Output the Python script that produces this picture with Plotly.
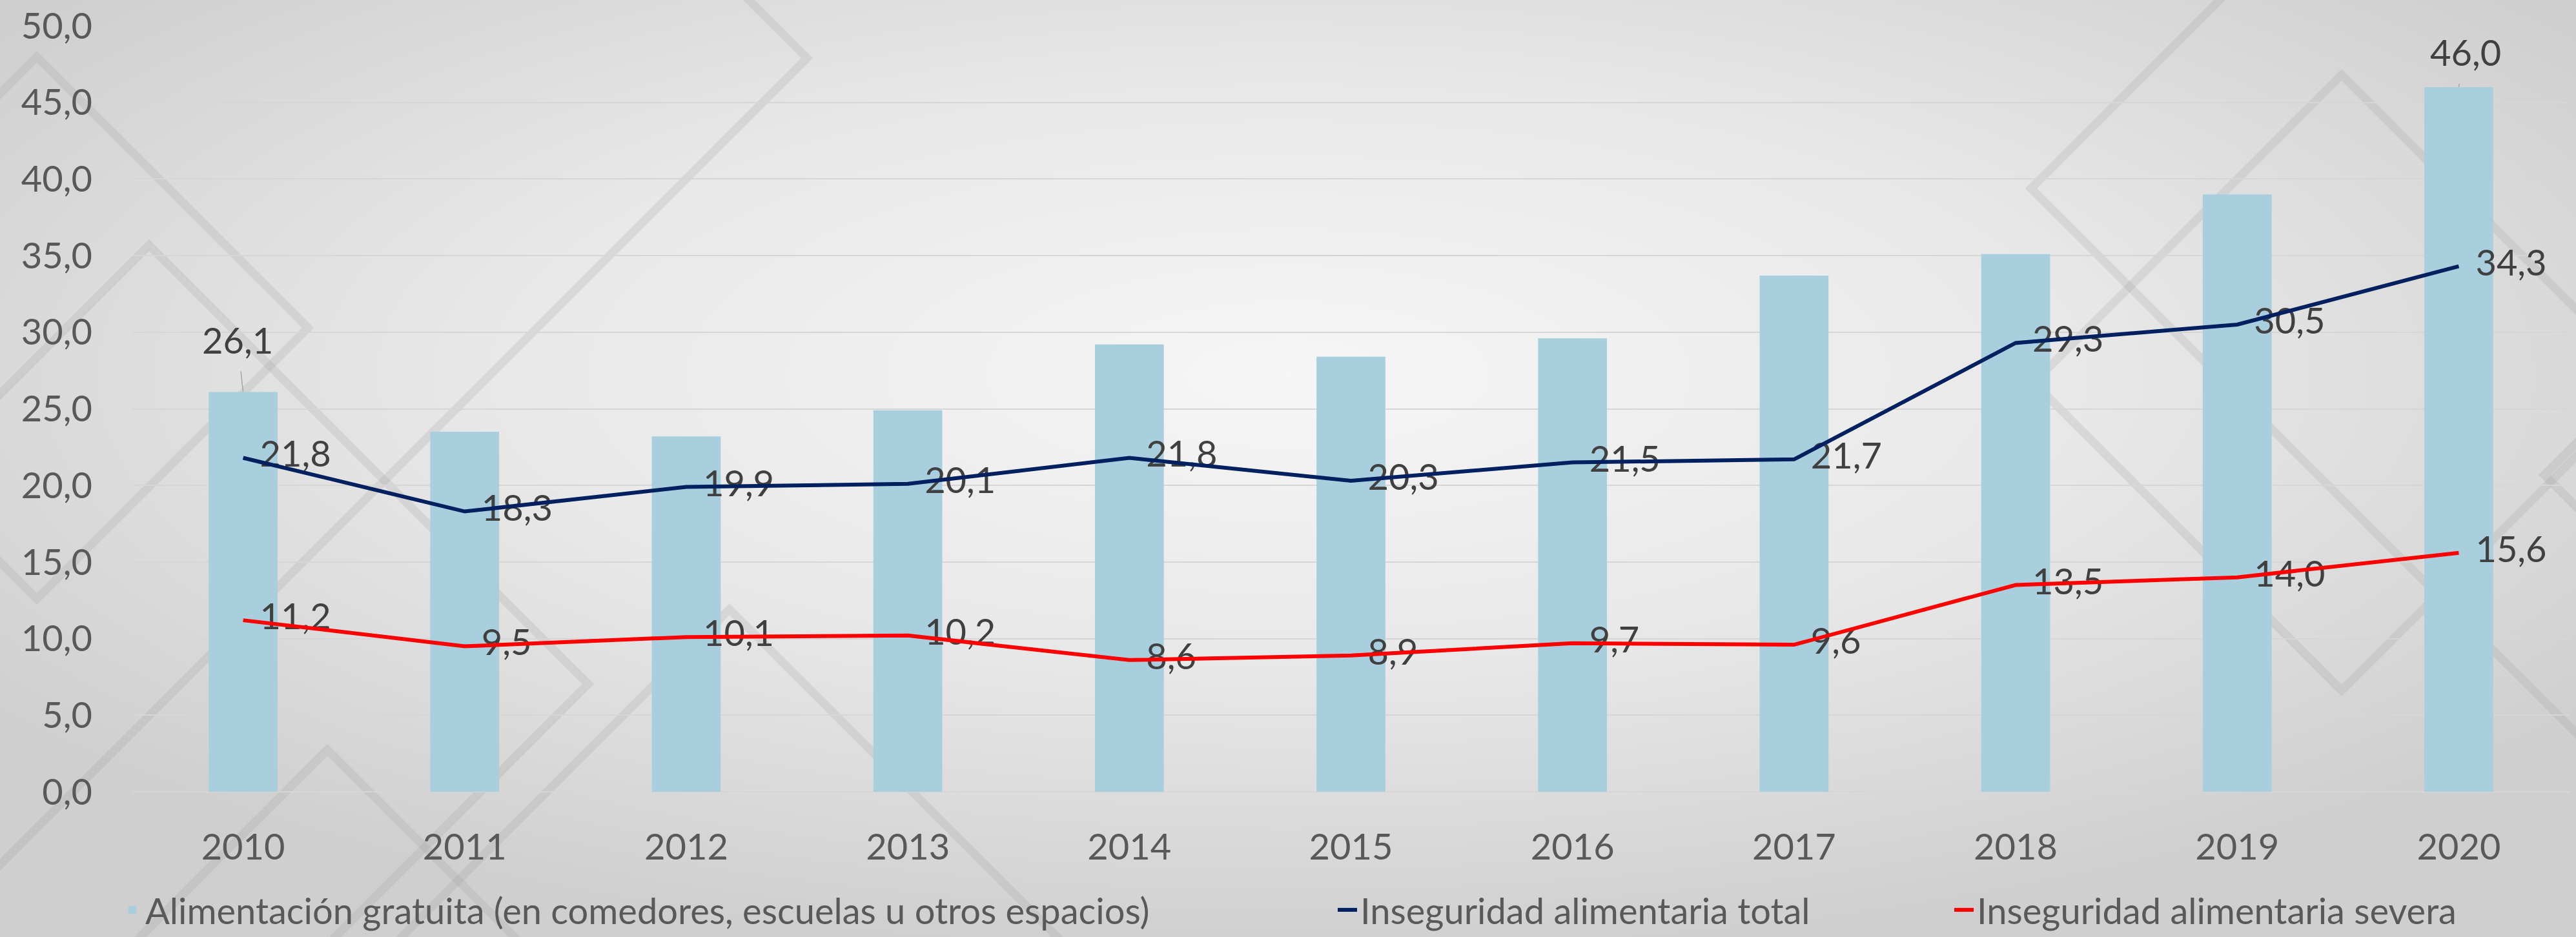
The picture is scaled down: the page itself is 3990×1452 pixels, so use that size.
import base64
import plotly.graph_objects as go

# ---------------- data ----------------
years = ["2010", "2011", "2012", "2013", "2014", "2015", "2016", "2017", "2018", "2019", "2020"]
alimentacion_gratuita = [26.1, 23.5, 23.2, 24.9, 29.2, 28.4, 29.6, 33.7, 35.1, 39.0, 46.0]
inseguridad_total = [21.8, 18.3, 19.9, 20.1, 21.8, 20.3, 21.5, 21.7, 29.3, 30.5, 34.3]
inseguridad_severa = [11.2, 9.5, 10.1, 10.2, 8.6, 8.9, 9.7, 9.6, 13.5, 14.0, 15.6]
labelled_bars = ["2010", "2020"]

name_bar = "Alimentación gratuita (en comedores, escuelas u otros espacios)"
name_total = "Inseguridad alimentaria total"
name_severa = "Inseguridad alimentaria severa"

# ---------------- styling ----------------
W, H = 3990, 1452
ML, MR, MT, MB = 205, 10, 40, 225
PW, PH = W - ML - MR, H - MT - MB
FONT = "Lato, 'Open Sans', sans-serif"
BAR_COLOR = "#A9CFDE"
NAVY = "#002060"
RED = "#FF0000"
TXT_DARK = "#404040"
TXT_GREY = "#595959"
FS = 56


def fmt(v):
    return f"{v:.1f}".replace(".", ",")


# decorative background (gradient + diamond outlines) as an SVG image
def diamond(cx, cy, h):
    return f'<polygon points="{cx},{cy-h} {cx+h},{cy} {cx},{cy+h} {cx-h},{cy}"/>'


diamonds = "".join([
    diamond(57, 508, 420),
    diamond(231, 1060, 680),
    diamond(0, 90, 1250),
    diamond(507, 1562, 400),
    diamond(1130, 1464, 520),
    diamond(3627, 593, 477),
    diamond(4346, 292, 1200),
    diamond(4341, 736, 400),
])
svg = f'''<svg xmlns="http://www.w3.org/2000/svg" width="{W}" height="{H}" viewBox="0 0 {W} {H}" preserveAspectRatio="none">
<defs><radialGradient id="g" cx="0.5" cy="0.40" r="0.62" gradientUnits="objectBoundingBox">
<stop offset="0" stop-color="#f6f6f6"/><stop offset="0.5" stop-color="#e8e8e8"/><stop offset="1" stop-color="#cfcfcf"/>
</radialGradient></defs>
<rect x="0" y="0" width="{W}" height="{H}" fill="url(#g)"/>
<g fill="none" stroke="#a0a0a0" stroke-opacity="0.22" stroke-width="13">{diamonds}</g>
</svg>'''
bg_src = "data:image/svg+xml;base64," + base64.b64encode(svg.encode()).decode()

fig = go.Figure()

fig.add_trace(go.Bar(
    x=years, y=alimentacion_gratuita, name=name_bar,
    marker=dict(color=BAR_COLOR, line=dict(width=0)),
    legend="legend", hoverinfo="skip",
))

# label traces (drawn first so the lines sit above the numbers)
for vals in (inseguridad_total, inseguridad_severa):
    fig.add_trace(go.Scatter(
        x=years, y=vals, mode="markers+text",
        text=[fmt(v) for v in vals], textposition="middle right",
        textfont=dict(family=FONT, size=FS, color=TXT_DARK),
        marker=dict(size=40, color="rgba(0,0,0,0)"),
        showlegend=False, hoverinfo="skip", cliponaxis=False,
    ))

fig.add_trace(go.Scatter(
    x=years, y=inseguridad_total, mode="lines", name=name_total,
    line=dict(color=NAVY, width=6), legend="legend2", hoverinfo="skip",
))
fig.add_trace(go.Scatter(
    x=years, y=inseguridad_severa, mode="lines", name=name_severa,
    line=dict(color=RED, width=6), legend="legend3", hoverinfo="skip",
))

# bar labels with leader lines (category index used as the x position)
offsets = {"2010": (-9, -81), "2020": (11, -54)}
for i, (yr, v) in enumerate(zip(years, alimentacion_gratuita)):
    if yr in labelled_bars:
        ax, ay = offsets[yr]
        fig.add_annotation(
            x=i, y=v, text=fmt(v), showarrow=True, arrowhead=0,
            arrowwidth=1.5, arrowcolor="#a6a6a6", ax=ax, ay=ay,
            startstandoff=14, font=dict(family=FONT, size=FS, color=TXT_DARK),
        )

leg_common = dict(orientation="h", xref="container", yref="container",
                  yanchor="middle", y=1 - 1410 / H, xanchor="left",
                  font=dict(family=FONT, size=FS, color=TXT_GREY),
                  bgcolor="rgba(0,0,0,0)", borderwidth=0)

fig.update_layout(
    width=W, height=H,
    margin=dict(l=ML, r=MR, t=MT, b=MB, pad=0, autoexpand=False),
    paper_bgcolor="#dcdcdc", plot_bgcolor="rgba(0,0,0,0)",
    separators=",.",
    bargap=0.689,
    font=dict(family=FONT, size=FS, color=TXT_GREY),
    showlegend=True,
    legend=dict(x=185 / W, **leg_common),
    legend2=dict(x=2067 / W, **leg_common),
    legend3=dict(x=3022 / W, **leg_common),
    xaxis=dict(type="category", categoryorder="array", categoryarray=years,
               range=[-0.5, len(years) - 0.5], showgrid=False, showline=False, zeroline=False,
               ticks="", tickfont=dict(family=FONT, size=FS, color=TXT_GREY),
               ticklabelstandoff=48),
    yaxis=dict(range=[0, 50], dtick=5, tickformat=".1f", showgrid=True,
               gridcolor="#d6d6d6", gridwidth=2, zeroline=True, zerolinecolor="#d6d6d6",
               zerolinewidth=2, showline=False, ticks="",
               tickfont=dict(family=FONT, size=FS, color=TXT_GREY),
               ticklabelstandoff=61),
    images=[dict(source=bg_src, xref="paper", yref="paper",
                 x=-ML / PW, y=1 + MT / PH, sizex=W / PW, sizey=H / PH,
                 xanchor="left", yanchor="top", sizing="stretch", layer="below")],
)

fig.write_html(
    "out.html",
    config={"displayModeBar": False},
    post_script="document.body.style.margin='0px';document.body.style.overflow='hidden';",
)
